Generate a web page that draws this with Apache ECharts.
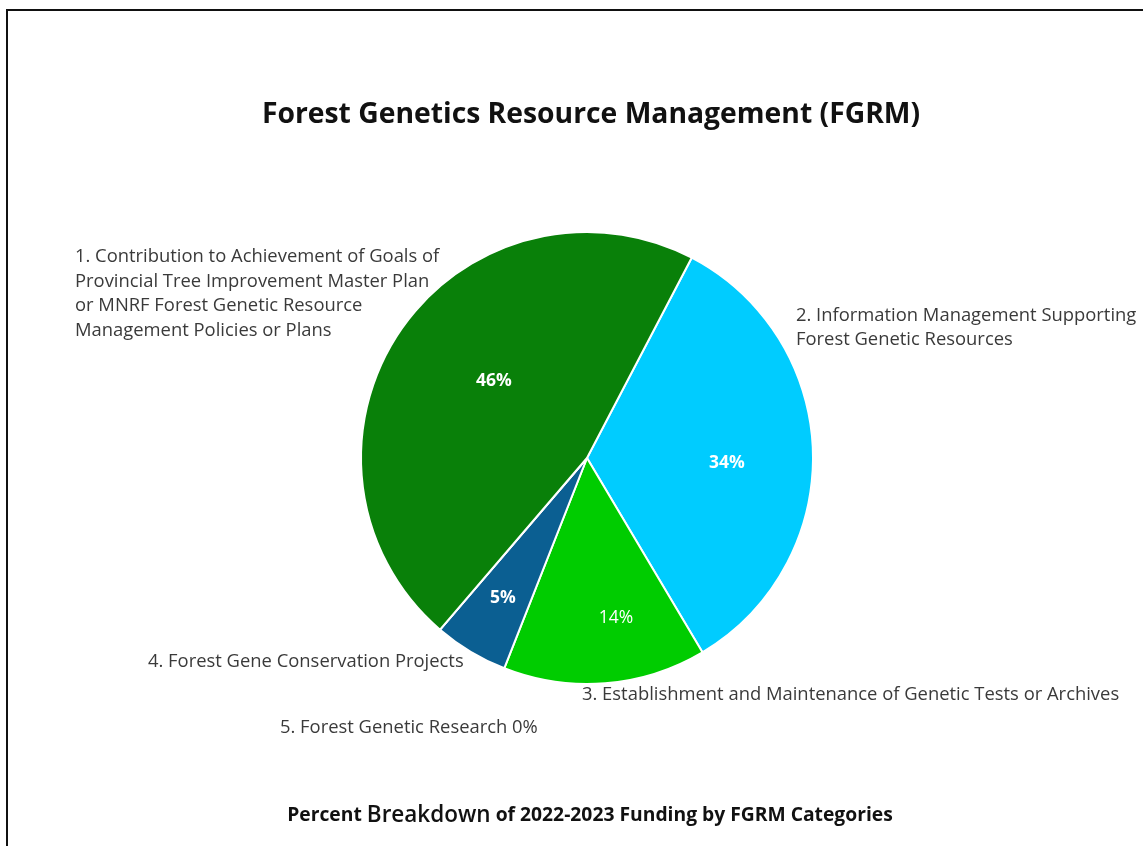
<!DOCTYPE html>
<html>
<head>
<meta charset="utf-8">
<script src="https://cdn.jsdelivr.net/npm/echarts@6/dist/echarts.min.js"></script>
<style>
html,body{margin:0;padding:0;background:#fff;}
#chart{position:absolute;left:0;top:0;width:1143px;height:846px;}
#frame{position:absolute;left:6px;top:9px;width:1200px;height:900px;border-left:2px solid #111;border-top:2px solid #111;pointer-events:none;}
</style>
</head>
<body>
<div id="chart"></div>
<div id="frame"></div>
<script>
const titleText = 'Forest Genetics Resource Management (FGRM)';
const subtitleParts = ['Percent ', 'Breakdown', ' of 2022-2023 Funding by FGRM Categories'];
const categories = [
  '1. Contribution to Achievement of Goals of\nProvincial Tree Improvement Master Plan\nor MNRF Forest Genetic Resource\nManagement Policies or Plans',
  '2. Information Management Supporting\nForest Genetic Resources',
  '3. Establishment and Maintenance of Genetic Tests or Archives',
  '4. Forest Gene Conservation Projects',
  '5. Forest Genetic Research 0%'
];
// shares (labels show the rounded percentages)
const shares = [46.4, 33.8, 14.5, 5.3, 0];
const percentLabels = ['46%', '34%', '14%', '5%', ''];
const percentBold = [true, true, false, true, false];
const sliceColors = ['#098009', '#00CCFF', '#00CC00', '#0B5F92', '#7F7F7F'];
// clockwise drawing order starting from the 1/2 boundary
const drawOrder = [1, 2, 3, 4, 0];

// category label anchors (left x, vertical middle y)
const labelAnchors = [[75, 294], [796, 328], [582, 695], [148, 662], [280, 728]];
// percent label centres
const percentAnchors = [[494, 381], [727, 463], [616, 618], [503, 598], [0, 0]];

const FONT = '"Open Sans", Lato, sans-serif';

const pieData = drawOrder.map(i => ({
  name: categories[i],
  value: shares[i],
  idx: i,
  itemStyle: { color: sliceColors[i] }
}));

const chart = echarts.init(document.getElementById('chart'), null, { renderer: 'canvas' });
chart.setOption({
  backgroundColor: '#ffffff',
  animation: false,
  title: [
    {
      text: titleText,
      left: 586, top: 96, textAlign: 'center',
      textStyle: { fontFamily: FONT, fontSize: 28.3, fontWeight: 'bold', color: '#111' }
    },
    {
      text: '{a|' + subtitleParts[0] + '}{b|' + subtitleParts[1] + '}{a|' + subtitleParts[2] + '}',
      left: 585, top: 797, textAlign: 'center',
      textStyle: {
        fontFamily: FONT,
        rich: {
          a: { fontFamily: FONT, fontSize: 19.3, fontWeight: 'bold', color: '#111', lineHeight: 28 },
          b: { fontFamily: FONT, fontSize: 22.5, fontWeight: 600, color: '#111', lineHeight: 28 }
        }
      }
    }
  ],
  series: [
    {
      type: 'pie',
      center: [587, 458],
      radius: 226,
      startAngle: 62.4,
      clockwise: true,
      avoidLabelOverlap: false,
      itemStyle: { borderColor: '#ffffff', borderWidth: 2 },
      label: {
        show: true,
        position: 'inside',
        color: '#ffffff',
        fontFamily: FONT,
        fontSize: 17.5,
        formatter: p => percentLabels[p.data.idx]
      },
      labelLine: { show: false },
      labelLayout: function (params) {
        const i = pieData[params.dataIndex].idx;
        return { x: percentAnchors[i][0], y: percentAnchors[i][1], align: 'center', verticalAlign: 'middle' };
      },
      emphasis: { disabled: true },
      data: pieData.map(d => ({
        ...d,
        label: { fontWeight: percentBold[d.idx] ? 'bold' : 'normal' }
      }))
    },
    {
      type: 'pie',
      center: [587, 458],
      radius: 226,
      startAngle: 62.4,
      clockwise: true,
      silent: true,
      avoidLabelOverlap: false,
      itemStyle: { color: 'rgba(0,0,0,0)', borderWidth: 0 },
      label: {
        show: true,
        position: 'outside',
        color: '#3a3a3a',
        fontFamily: FONT,
        fontSize: 18.4,
        lineHeight: 24.5,
        formatter: p => categories[p.data.idx]
      },
      labelLine: { show: false },
      labelLayout: function (params) {
        const i = pieData[params.dataIndex].idx;
        return {
          x: labelAnchors[i][0],
          y: labelAnchors[i][1],
          align: 'left',
          verticalAlign: 'middle'
        };
      },
      emphasis: { disabled: true },
      data: pieData.map(d => ({ ...d, itemStyle: { color: 'rgba(0,0,0,0)' } }))
    }
  ]
});
</script>
</body>
</html>
